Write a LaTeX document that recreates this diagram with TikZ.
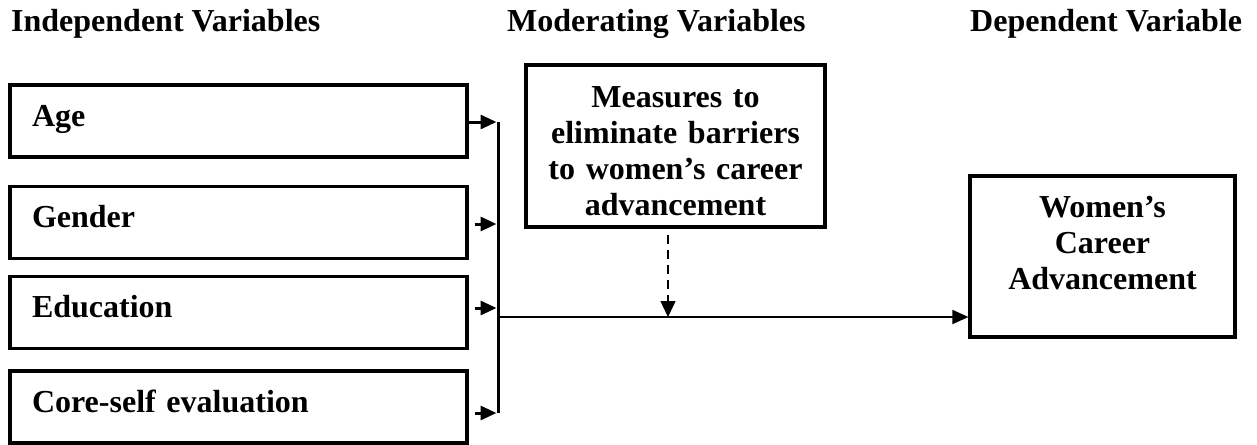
\documentclass[tikz,border=0pt]{standalone}
\usepackage{fontspec}
\setmainfont{Liberation Serif}
\usetikzlibrary{arrows.meta}
\begin{document}
\begin{tikzpicture}[x=1pt,y=-1pt,
  font=\fontsize{32}{36}\selectfont\bfseries,
  ivbox/.style={draw, line width=3.2pt, minimum height=72pt, text width=413pt,
    inner xsep=22pt, inner ysep=0pt, align=left, text height=21pt, text depth=11pt},
  bigbox/.style={draw, line width=3.2pt, align=center, inner sep=0pt},
  hdr/.style={anchor=base west, inner sep=0pt},
  tip/.style={-{Triangle[length=16pt,width=14pt]}},
  dtip/.style={-{Triangle[length=16pt,width=15pt]}},
]
\useasboundingbox (0,0) rectangle (1257,444);

% headers
\node[hdr] (h1) at (11,32) {Independent Variables};
\node[hdr] (h2) at (507,32) {Moderating Variables};
\node[hdr] (h3) at (970,32) {Dependent Variable};

% independent variable boxes
\node[ivbox] (age) at (238.5,121) {Age};
\node[ivbox] (gender) at (238.5,222.5) {Gender};
\node[ivbox] (edu) at (238.5,312.5) {Education};
\node[ivbox] (core) at (238.5,407) {Core-self evaluation};

% moderator box
\node[bigbox, minimum width=299pt, minimum height=162pt, text width=290pt] (mod) at (675.5,146)
  {\rule{0pt}{31pt}Measures to\\ eliminate barriers\\ to women’s career\\ advancement};

% dependent box
\node[bigbox, minimum width=265pt, minimum height=161pt, text width=255pt] (women) at (1102.5,256.5)
  {Women’s\\ Career\\ Advancement\rule[-27pt]{0pt}{27pt}};

% bar coordinates
\coordinate (a1) at (498,122);
\coordinate (a2) at (498,224);
\coordinate (a3) at (498,308);
\coordinate (a4) at (498,413);
\coordinate (bm) at (498,317);
\coordinate (mj) at (668,317);
\coordinate (g2) at ([xshift=6pt]gender.east);
\coordinate (e2) at ([xshift=6pt]edu.east);
\coordinate (c2) at ([xshift=6pt]core.east);

\draw[line width=3pt] (a1) -- (a4);
\draw[tip, line width=3pt, shorten >=1.5pt] (age.east |- a1) -- (a1);
\draw[tip, line width=3pt, shorten >=1.5pt] (g2 |- a2) -- (a2);
\draw[tip, line width=3pt, shorten >=1.5pt] (e2 |- a3) -- (a3);
\draw[tip, line width=3pt, shorten >=1.5pt] (c2 |- a4) -- (a4);

\draw[tip, line width=1.8pt] (bm) -- (bm -| women.west);
\draw[dtip, line width=1.5pt, dash pattern=on 9pt off 6pt, shorten <=6pt] (mj |- mod.south) -- (mj);
\end{tikzpicture}
\end{document}
